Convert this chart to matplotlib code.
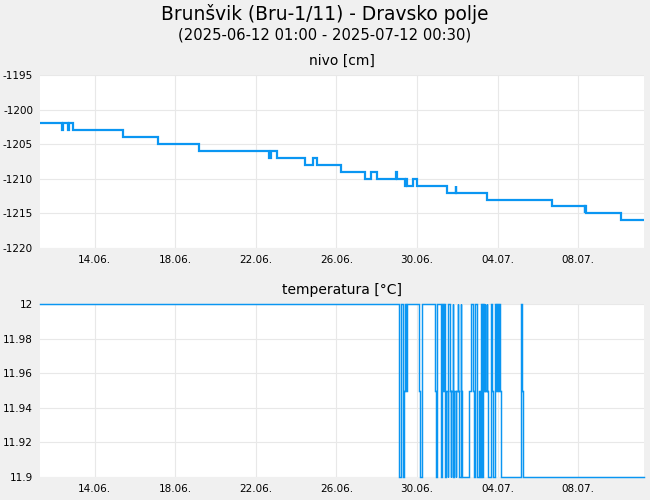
import matplotlib
matplotlib.use("Agg")
import matplotlib.pyplot as plt
import numpy as np
import pandas as pd

title = "Brunšvik (Bru-1/11) - Dravsko polje"
subtitle = "(2025-06-12 01:00 - 2025-07-12 00:30)"
start = "2025-06-12 01:00"
end = "2025-07-12 00:30"

# level series: change times (hours from start) and values
nivo_h = [0, 26.0, 27.5, 33.5, 34.5, 39.0, 99.0, 140.5, 189.0, 273.0, 275.0, 282.5,
          316.0, 325.0, 329.5, 358.0, 387.5, 394.5, 401.5, 424.0, 425.0, 435.0, 436.5,
          437.0, 444.5, 449.5, 485.0, 495.0, 496.0, 533.0, 610.0, 649.0, 649.5, 650.5, 692.0]
nivo_v = [-1202, -1203, -1202, -1203, -1202, -1203, -1204, -1205, -1206, -1207, -1206, -1207,
          -1208, -1207, -1208, -1209, -1210, -1209, -1210, -1209, -1210, -1211, -1210,
          -1211, -1210, -1211, -1212, -1211, -1212, -1213, -1214, -1215, -1214, -1215, -1216]

temp_h = [0, 427.5, 429.5, 430.5, 432.0, 433.5, 435.0, 436.0, 437.0, 452.0, 453.0, 454.5,
          455.5, 470.5, 472.0, 473.5, 477.5, 479.0, 480.0, 481.0, 482.5, 483.5, 485.5,
          486.5, 488.0, 489.0, 490.0, 491.5, 492.5, 493.5, 495.0, 496.0, 497.5, 498.5,
          499.5, 501.0, 502.0, 503.0, 511.5, 513.0, 516.0, 517.5, 518.5, 520.5, 522.5,
          524.0, 525.5, 526.5, 527.5, 528.5, 529.5, 530.5, 532.0, 532.5, 533.5, 537.0,
          539.0, 540.0, 541.5, 543.0, 544.5, 545.5, 546.5, 548.0, 549.0, 573.5, 574.0, 575.5]
temp_v = [12, 11.9, 11.95, 12, 11.9, 11.95, 12, 11.95, 12, 11.95, 11.9, 11.95,
          12, 11.95, 11.9, 12, 11.9, 12, 11.95, 12, 11.9, 11.95, 11.9,
          12, 11.95, 11.9, 11.95, 12, 11.9, 11.95, 11.9, 11.95, 12, 11.95,
          11.9, 12, 11.95, 11.9, 11.95, 12, 11.95, 11.9, 12, 11.9, 11.95,
          11.9, 12, 11.9, 12, 11.95, 12, 11.95, 12, 11.95, 11.9, 12,
          11.95, 11.9, 12, 11.95, 12, 11.95, 12, 11.95, 11.9, 12, 11.95, 11.9]

tick_days = ["2025-06-14", "2025-06-18", "2025-06-22", "2025-06-26",
             "2025-06-30", "2025-07-04", "2025-07-08"]
nivo_ticks = [-1195, -1200, -1205, -1210, -1215, -1220]
temp_ticks = [12, 11.98, 11.96, 11.94, 11.92, 11.9]

t0 = pd.Timestamp(start)
t1 = pd.Timestamp(end)

def series(hours, vals):
    t = [t0 + pd.Timedelta(hours=h) for h in hours] + [t1]
    v = list(vals) + [vals[-1]]
    return t, v

BG = "#f0f0f0"
BLUE = "#0a96f2"
GRID = "#e8e8e8"
plt.rcParams['font.family'] = ['DejaVu Sans']

fig = plt.figure(figsize=(6.5, 5), dpi=100, facecolor=BG)
W, H = 650, 500
ax1 = fig.add_axes([40 / W, 1 - 248 / H, 604 / W, 173 / H])
ax2 = fig.add_axes([40 / W, 1 - 477 / H, 604 / W, 173 / H])

fig.text(0.5, 1 - 14 / H, title, ha="center", va="center", fontsize=13.4)
fig.text(0.5, 1 - 35 / H, subtitle, ha="center", va="center", fontsize=10.6)

tick_pos = [pd.Timestamp(d) + pd.Timedelta(hours=18) for d in tick_days]
tick_lab = [pd.Timestamp(d).strftime("%d.%m.") for d in tick_days]

for ax, (hh, vv), yt, lw, ttl, ylim, clip in [
    (ax1, (nivo_h, nivo_v), nivo_ticks, 1.6, "nivo [cm]", (-1220, -1195), True),
    (ax2, (temp_h, temp_v), temp_ticks, 1.05, "temperatura [°C]", (11.9, 12.0), False),
]:
    t, v = series(hh, vv)
    ax.plot(t, v, drawstyle="steps-post", color=BLUE, lw=lw,
            solid_joinstyle="miter", clip_on=clip)
    ax.set_xlim(t0, t1)
    ax.set_ylim(*ylim)
    ax.set_facecolor("white")
    for s in ax.spines.values():
        s.set_visible(False)
    ax.set_yticks(yt)
    ax.set_yticklabels([("%g" % y) for y in yt])
    ax.set_xticks(tick_pos)
    ax.set_xticklabels(tick_lab)
    ax.tick_params(length=0, labelsize=7.5, pad=5)
    ax.grid(True, color=GRID, lw=0.8)
    ax.set_axisbelow(True)
    ax.set_title(ttl, fontsize=10, pad=7)

fig.savefig("out.png", dpi=100, facecolor=BG)
